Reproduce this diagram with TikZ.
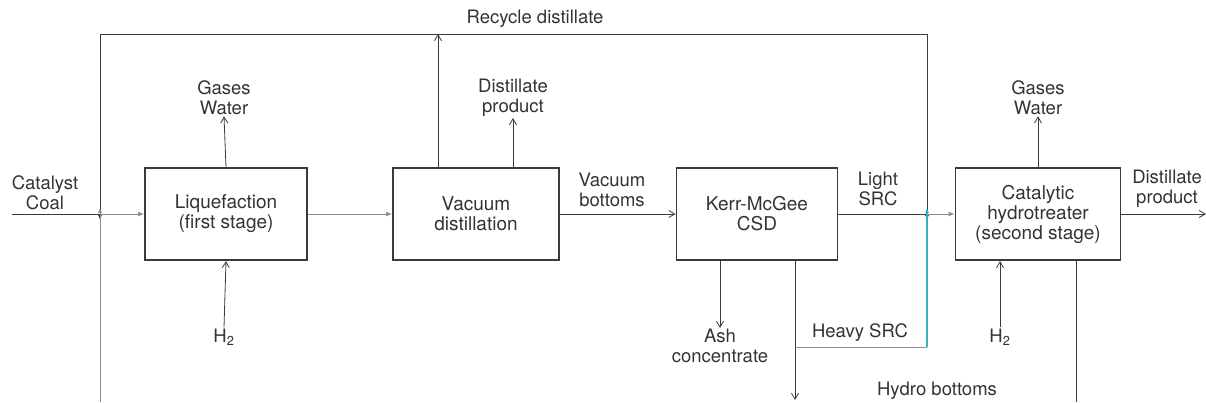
\documentclass[tikz,border=0pt]{standalone}
\usepackage{fontspec}
\setmainfont{TeX Gyre Heros}
\usepackage{xcolor}
\usetikzlibrary{arrows.meta}
\definecolor{lnk}{HTML}{3A3A3A}
\definecolor{pale}{HTML}{8C8C8C}
\definecolor{cyanln}{HTML}{2FB3BE}
\begin{document}
\begin{tikzpicture}[
					x=1pt,y=-1pt,
					unit/.style={draw=lnk,line width=1.9pt,minimum height=92pt,align=center,inner sep=2pt,text=black!80,font=\fontsize{19}{20}\selectfont},
					lbl/.style={align=center,inner sep=1pt,text=black!80,font=\fontsize{18.5}{20}\selectfont},
					flow/.style={draw=lnk,line width=0.8pt,-{Straight Barb[length=6pt,width=7pt]}},
					pflow/.style={draw=pale,line width=1pt,-{Latex[length=6pt,width=5pt]}},
					pipe/.style={draw=lnk,line width=0.8pt}
					]
					\useasboundingbox (0,0) rectangle (1206,402);
					% process units
					\foreach \n/\x/\w/\t in {liq/226/162/{Liquefaction\\(first stage)},vac/476/166/{Vacuum\\distillation},kerr/757/161/{Kerr-McGee\\CSD},cat/1038/165/{Catalytic\\hydrotreater\\(second stage)}}{
						\node[unit,minimum width=\w pt] (\n) at (\x,214) {\t};
					}
					% stream labels
					\node[lbl] (cc) at (45,193) {Catalyst\\Coal};
					\node[lbl] (gw1) at (224,98) {Gases\\Water};
					\node[lbl] (h2a) at (224,337) {H\textsubscript{2}};
					\node[lbl] (rd) at (535,19) {Recycle distillate};
					\node[lbl] (dp1) at (513,98) {Distillate\\product};
					\node[lbl] (vb) at (612,190) {Vacuum\\bottoms};
					\node[lbl] (ash) at (720,346) {Ash\\concentrate};
					\node[lbl] (lsrc) at (878,189) {Light\\SRC};
					\node[lbl] (hsrc) at (860,333) {Heavy SRC};
					\node[lbl] (gw2) at (1038,98) {Gases\\Water};
					\node[lbl] (h2b) at (1000,337) {H\textsubscript{2}};
					\node[lbl] (dp2) at (1167,189) {Distillate\\product};
					\node[lbl] (hb) at (937,391) {Hydro bottoms};
					% line ends and corners
					\coordinate (cs) at (12,214);
					\coordinate (j1) at (100,214);
					\coordinate (j2) at (927,214);
					\coordinate (t1) at (100,34);
					\coordinate (t2) at (927,34);
					\coordinate (tr) at (438,34);
					\coordinate (b1) at (100,402);
					\coordinate (b2) at (795,400);
					\coordinate (b3) at (1076,402);
					\coordinate (hc) at (795,347);
					\coordinate (hc2) at (927,347);
					\coordinate (re) at (1206,214);
					% main line
					\draw[pipe] (cs) -- (j1);
					\draw[pflow] (j1) -- (liq.west);
					\draw[pflow] (liq.east) -- (vac.west);
					\draw[flow] (vac.east) -- (kerr.west);
					\draw[pipe] (kerr.east) -- (j2);
					\draw[pflow] (j2) -- (cat.west);
					\draw[flow] (cat.east) -- (re);
					% side streams
					\draw[flow] (liq.north) -- (gw1.south);
					\draw[flow] (h2a.north) -- (liq.south);
					\draw[flow] (vac.north -| dp1) -- (dp1.south);
					\draw[flow] (kerr.south -| ash) -- (ash.north);
					\draw[flow] (cat.north) -- (gw2.south);
					\draw[flow] (h2b.north) -- (cat.south -| h2b);
					\draw[pipe] (cat.south -| b3) -- (b3);
					% recycle distillate
					\draw[flow] (vac.north -| tr) -- (tr);
					\draw[pipe] (t1) -- (t2);
					\draw[pipe,-{Latex[length=5pt,width=4pt]}] (t1) -- ([yshift=-6pt]j1);
					\draw[pipe,-{Latex[length=5pt,width=4pt]}] (t2) -- ([yshift=-6pt]j2);
					\draw[pflow,line width=0.9pt,-{Latex[length=5pt,width=4pt]}] (b1) -- ([yshift=6pt]j1);
					% heavy SRC
					\draw[flow] (kerr.south -| b2) -- (b2);
					\draw[draw=pale,line width=0.8pt] (hc) -- (hc2);
					\draw[draw=cyanln,line width=1.3pt,-{Latex[length=5pt,width=4pt]}] (hc2) -- ([yshift=6pt]j2);
				\end{tikzpicture}
\end{document}
